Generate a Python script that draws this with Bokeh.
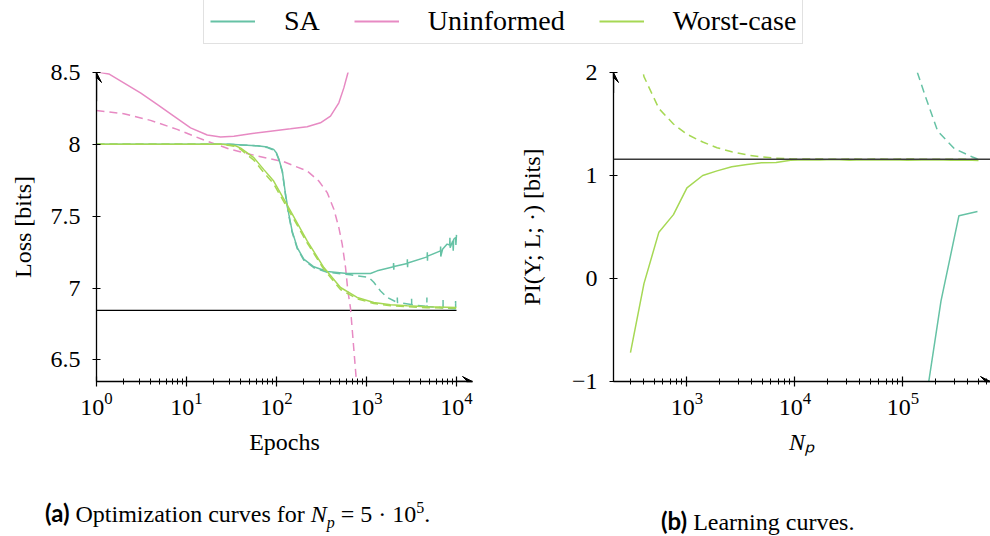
from bokeh.plotting import figure
from bokeh.layouts import column, row
from bokeh.models import (Legend, LegendItem, Span, Arrow, VeeHead, FixedTicker,
                          CustomJSTickFormatter, LogTickFormatter, Div, Range1d)
from bokeh.embed import file_html
from bokeh.resources import INLINE

# ---------------- data ----------------
TEAL = "#66c2a5"
PINK = "#e78ac3"
GREEN = "#a6d854"

series_names = ["SA", "Uninformed", "Worst-case"]

# (a) optimisation curves, N_p = 5e5
sa_ep = [1, 10, 30, 61, 79, 93, 100, 106, 116, 126, 137, 149, 170, 201, 260, 366, 610,
         1107, 1315, 1849, 1990, 2000, 2010, 2020, 2831, 2845, 2860, 2875, 4721, 4740, 4760,
         4780, 6637, 6660, 6690, 7000, 7870, 8400, 8450, 8500, 9100, 9200, 9300, 9772, 9850, 10000]
sa_loss = [8.0, 8.0, 8.0, 7.99, 7.981, 7.965, 7.94, 7.9, 7.815, 7.653, 7.514, 7.398, 7.282,
           7.201, 7.148, 7.115, 7.101, 7.101, 7.12, 7.143, 7.148, 7.175, 7.128, 7.15, 7.171,
           7.2, 7.145, 7.175, 7.217, 7.25, 7.19, 7.222, 7.259, 7.29, 7.22, 7.27, 7.306, 7.3,
           7.35, 7.28, 7.33, 7.26, 7.34, 7.351, 7.3, 7.37]
sa_es_ep = [1, 10, 30, 61, 79, 93, 100, 106, 116, 126, 137, 149, 170, 201, 260, 366, 664,
            1062, 1205, 1432, 1698, 2193, 2200, 2207, 3160, 3170, 3180, 3357, 4680, 4690,
            4700, 6637, 7080, 7090, 7100, 9700, 9772, 9790]
sa_es_loss = [8.0, 8.0, 8.0, 7.99, 7.978, 7.96, 7.935, 7.895, 7.81, 7.645, 7.505, 7.39, 7.275,
              7.195, 7.142, 7.11, 7.092, 7.074, 7.04, 6.98, 6.935, 6.9, 6.935, 6.9, 6.885,
              6.925, 6.885, 6.882, 6.872, 6.935, 6.872, 6.865, 6.862, 6.92, 6.862, 6.855,
              6.91, 6.854]

un_ep = [1, 1.37, 2.01, 3.08, 4.72, 7.23, 11.1, 17, 23.9, 33.6, 51.4, 85.7, 143, 219, 308,
         398, 493, 560, 621, 708]
un_loss = [8.505, 8.49, 8.428, 8.358, 8.278, 8.197, 8.115, 8.065, 8.051, 8.056, 8.074, 8.092,
           8.108, 8.122, 8.15, 8.197, 8.289, 8.393, 8.497, 8.7]
un_es_ep = [1, 2.01, 3.98, 7.87, 15.6, 30.8, 61, 120.5, 219, 295, 366, 434, 493, 537, 585,
            621, 664, 755, 832]
un_es_loss = [8.236, 8.213, 8.167, 8.104, 8.03, 7.965, 7.919, 7.879, 7.815, 7.745, 7.664,
              7.549, 7.42, 7.306, 7.143, 6.98, 6.86, 6.43, 6.1]

wc_ep = [1, 10, 25, 35, 40, 56, 72, 93, 143, 219, 336, 514, 787, 1205, 1849, 2831, 4721, 10000]
wc_loss = [8.0, 8.0, 8.0, 7.99, 7.974, 7.907, 7.826, 7.745, 7.537, 7.328, 7.143, 7.004, 6.935,
           6.9, 6.884, 6.877, 6.87, 6.865]
wc_es_loss = [8.0, 8.0, 8.0, 7.985, 7.965, 7.89, 7.805, 7.725, 7.52, 7.315, 7.13, 6.99, 6.925,
              6.893, 6.877, 6.87, 6.864, 6.86]

opt_loss = 6.845

# (b) learning curves
wc_np = [300, 400, 550, 750, 1000, 1400, 1900, 2600, 3600, 4900, 6700, 9100, 12500, 17000,
         23000, 32000, 43000, 59000, 80000, 110000, 150000, 200000, 280000, 380000, 500000]
wc_pi = [-0.72, -0.05, 0.45, 0.62, 0.88, 1.0, 1.045, 1.085, 1.107, 1.124, 1.126, 1.149, 1.152,
         1.15, 1.155, 1.148, 1.152, 1.15, 1.153, 1.148, 1.15, 1.152, 1.148, 1.15, 1.145]
wc_pi_es = [2.6, 1.96, 1.65, 1.5, 1.4, 1.325, 1.27, 1.23, 1.2, 1.18, 1.168, 1.162, 1.16, 1.16,
            1.158, 1.16, 1.158, 1.16, 1.158, 1.16, 1.158, 1.158, 1.157, 1.157, 1.155]
sa_np = [165000, 225000, 330000, 490000]
sa_pi = [-1.15, -0.22, 0.61, 0.65]
sa_es_np = [136000, 160000, 210000, 300000, 440000, 490000]
sa_pi_es = [2.0, 1.78, 1.43, 1.26, 1.18, 1.16]

pi_ref = 1.158

# ---------------- styling helpers ----------------
SERIF = "Liberation Serif"
LW = 1.5
DASH = "8 5"


def style_axes(p):
    for ax in p.axis:
        ax.axis_line_color = "black"
        ax.axis_line_width = 1.3
        ax.major_tick_line_color = "black"
        ax.major_tick_line_width = 1.2
        ax.major_tick_in = 5
        ax.major_tick_out = 5
        ax.minor_tick_line_color = "black"
        ax.minor_tick_line_width = 1.0
        ax.minor_tick_in = 3
        ax.minor_tick_out = 3
        ax.major_label_text_font = SERIF
        ax.major_label_text_font_size = "24px"
        ax.major_label_text_color = "black"
        ax.axis_label_text_font = SERIF
        ax.axis_label_text_font_size = "24px"
        ax.axis_label_text_color = "black"
        ax.axis_label_text_font_style = "normal"
    for ax in p.yaxis:
        ax.minor_tick_line_color = None
        ax.major_tick_in = 4
        ax.major_tick_out = 4
        ax.major_label_standoff = 12
        ax.axis_label_standoff = 12
    for ax in p.xaxis:
        ax.major_label_standoff = 6
        ax.axis_label_standoff = 11
    p.grid.visible = False
    p.outline_line_color = None


def axis_arrow(p, xs, ys, xe, ye):
    p.add_layout(Arrow(end=VeeHead(size=10, fill_color="black", line_color="black",
                                   line_width=1),
                       x_start=xs, y_start=ys, x_end=xe, y_end=ye,
                       line_width=1.3, line_color="black"))


# ---------------- legend strip ----------------
p0 = figure(width=990, height=52, x_range=Range1d(0, 1), y_range=Range1d(0, 1),
            x_axis_location=None, y_axis_location=None, output_backend="svg",
            toolbar_location=None, min_border=0)
p0.outline_line_color = None
p0.grid.visible = False
rs = [p0.line(xs, ys, color=c, line_width=2)
      for xs, ys, c in ((sa_ep, sa_loss, TEAL), (un_ep, un_loss, PINK), (wc_ep, wc_loss, GREEN))]
leg = Legend(items=[LegendItem(label=n, renderers=[r]) for n, r in zip(series_names, rs)],
             orientation="horizontal", location=(203, 8),
             label_text_font=SERIF, label_text_font_size="28px", label_text_color="black",
             glyph_width=45, glyph_height=20, label_standoff=29, spacing=34,
             padding=6, margin=0, border_line_color="#c4c4c4", border_line_width=1,
             background_fill_alpha=1.0)
p0.add_layout(leg)

# ---------------- (a) ----------------
x1_end = 10 ** (376 / 90)
p1 = figure(width=484, height=409, x_axis_type="log", x_range=Range1d(1, x1_end),
            y_range=Range1d(6.35, 8.5), output_backend="svg", toolbar_location=None,
            min_border_left=96, min_border_right=12, min_border_top=20, min_border_bottom=80)
p1.line([1, 10000], [opt_loss, opt_loss], color="black", line_width=1.3)
p1.line(un_es_ep, un_es_loss, color=PINK, line_width=LW, line_dash=DASH)
p1.line(un_ep, un_loss, color=PINK, line_width=LW)
p1.line(sa_es_ep, sa_es_loss, color=TEAL, line_width=LW, line_dash=DASH)
p1.line(sa_ep, sa_loss, color=TEAL, line_width=LW)
p1.line(wc_ep, wc_es_loss, color=GREEN, line_width=LW, line_dash=DASH)
p1.line(wc_ep, wc_loss, color=GREEN, line_width=LW)
p1.xaxis.ticker = FixedTicker(ticks=[1, 10, 100, 1000, 10000],
                              minor_ticks=[m * 10 ** k for k in range(0, 5) for m in range(2, 10)])
p1.xaxis.formatter = LogTickFormatter()
p1.yaxis.ticker = FixedTicker(ticks=[6.5, 7, 7.5, 8, 8.5])
p1.yaxis.formatter = CustomJSTickFormatter(code="return String(tick)")
p1.xaxis.axis_label = "Epochs"
p1.yaxis.axis_label = "Loss [bits]"
style_axes(p1)
axis_arrow(p1, 1, 8.3, 1, 8.5)
axis_arrow(p1, 10000, 6.35, x1_end, 6.35)

# ---------------- (b) ----------------
x2_start = 10 ** 2.32
x2_end = 10 ** (2.32 + 377 / 108)
p2 = figure(width=506, height=409, x_axis_type="log", x_range=Range1d(x2_start, x2_end),
            y_range=Range1d(-1, 2), output_backend="svg", toolbar_location=None,
            min_border_left=129, min_border_right=0, min_border_top=16, min_border_bottom=78)
p2.add_layout(Span(location=pi_ref, dimension="width", line_color="#3a3a3a", line_width=1.3))
p2.line(wc_np, wc_pi_es, color=GREEN, line_width=LW, line_dash=DASH)
p2.line(wc_np, wc_pi, color=GREEN, line_width=LW)
p2.line(sa_es_np, sa_pi_es, color=TEAL, line_width=LW, line_dash=DASH)
p2.line(sa_np, sa_pi, color=TEAL, line_width=LW)
p2.xaxis.ticker = FixedTicker(ticks=[1000, 10000, 100000],
                              minor_ticks=[m * 10 ** k for k in range(2, 6) for m in range(2, 10)])
p2.xaxis.formatter = LogTickFormatter()
p2.yaxis.ticker = FixedTicker(ticks=[-1, 0, 1, 2])
p2.yaxis.formatter = CustomJSTickFormatter(
    code="return tick < 0 ? '\\u2212' + String(Math.abs(tick)) : String(tick)")
p2.xaxis.axis_label = "N\u209a"
p2.yaxis.axis_label = "PI(Y; L; \u00b7) [bits]"
style_axes(p2)
p2.xaxis.axis_label_text_font_style = "italic"
p2.yaxis.axis_label_standoff = 24
axis_arrow(p2, x2_start, 1.8, x2_start, 2)
axis_arrow(p2, 500000, -1, x2_end, -1)

# ---------------- captions ----------------
cap_style = ("font-family:'Liberation Serif';font-size:24px;color:black;"
             "white-space:nowrap;margin:0;")
cap_a = Div(width=484, height=72, text=(
    f"<div style=\"{cap_style}padding-top:30px;padding-left:40px;\">"
    "<b style=\"font-family:Lato;font-weight:bold;\">(a)</b> Optimization curves for "
    "<i>N<sub style='font-size:16px'>p</sub></i> = 5 &middot; 10<sup style='font-size:16px'>5</sup>.</div>"))
cap_b = Div(width=506, height=72, text=(
    f"<div style=\"{cap_style}padding-top:38px;padding-left:162px;\">"
    "<b style=\"font-family:Lato;font-weight:bold;\">(b)</b> Learning curves.</div>"))

layout = column(p0, row(p1, p2), row(cap_a, cap_b))
open("out.html", "w").write(file_html(layout, INLINE))
